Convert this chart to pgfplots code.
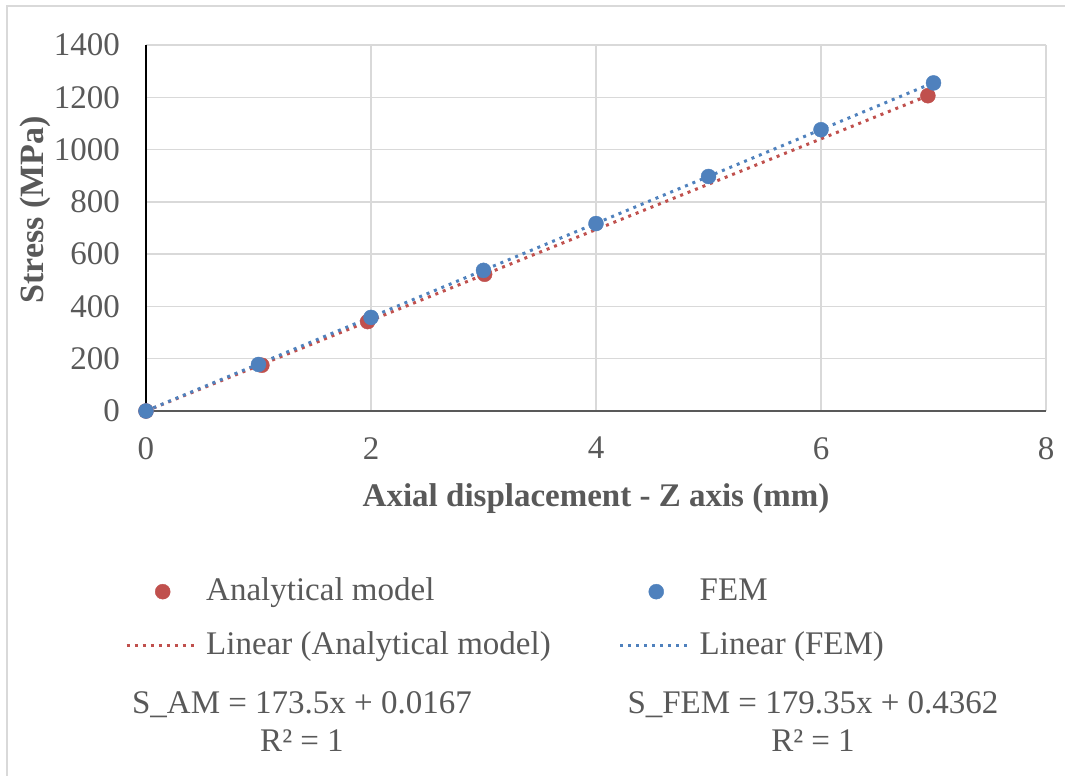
\documentclass[border=0pt]{standalone}
\usepackage{fontspec}
\setmainfont{Liberation Serif}
\usepackage{pgfplots}
\pgfplotsset{compat=1.18}
\definecolor{amred}{HTML}{C0504D}
\definecolor{femblue}{HTML}{4F81BD}
\definecolor{txtgray}{HTML}{595959}
\definecolor{gridgray}{HTML}{D9D9D9}
\definecolor{framegray}{HTML}{D9D9D9}

\begin{document}
\fontsize{33}{40}\selectfont
\begin{tikzpicture}[x=1pt,y=1pt]
\useasboundingbox (-146,-365) rectangle (919,411);
% chart area frame
\draw[framegray, line width=2pt] (-139,405) rectangle (940,-390);
\begin{axis}[
  at={(0,0)}, anchor=south west,
  scale only axis, width=900pt, height=366pt,
  xmin=0, xmax=8, ymin=0, ymax=1400,
  xtick={0,2,4,6,8}, ytick={0,200,...,1400},
  axis x line*=bottom, axis y line*=left,
  x axis line style={draw=txtgray, line width=2.5pt, -},
  y axis line style={draw=black, line width=1.5pt, -},
  major tick length=0pt,
  grid=major,
  major grid style={draw=gridgray, line width=1.5pt},
  /pgf/number format/assume math mode=true,
  /pgf/number format/set thousands separator={},
  tick label style={font=\fontsize{33}{40}\selectfont, text=txtgray, inner sep=0pt},
  yticklabel style={xshift=-26pt},
  xticklabel style={yshift=-26pt},
  xlabel={\bfseries Axial displacement - Z axis (mm)},
  xlabel style={at={(axis description cs:0.5,-0.262)}, anchor=base,
    font=\fontsize{33}{40}\selectfont, text=txtgray, inner sep=0pt},
  ylabel={\bfseries Stress (MPa)},
  ylabel style={at={(axis description cs:-0.1144,0.549)}, rotate=0, anchor=base,
    font=\fontsize{34}{40}\selectfont, text=txtgray, inner sep=0pt},
  legend columns=2,
  legend cell align=left,
  legend style={at={(axis description cs:-0.0233,-0.448)}, anchor=north west,
    draw=none, fill=none, inner sep=0pt,
    font=\fontsize{33}{40}\selectfont, text=txtgray,
    nodes={inner ysep=0pt, inner xsep=8pt, text height=25pt, text depth=8pt},
    row sep=21pt,
    /tikz/every even column/.append style={column sep=60pt}},
  legend image code/.code={\draw[mark repeat=2, mark phase=2, #1]
    plot coordinates {(0pt,0pt) (36pt,0pt) (70pt,0pt)};},
  clip=false,
]
% measured points
\addplot[only marks, mark=*, mark size=7.5pt, color=amred]
  coordinates {(0,0) (1.03,175) (1.97,342) (3.01,523) (6.95,1206)};
\addlegendentry{Analytical model}
\addplot[only marks, mark=*, mark size=7.5pt, color=femblue]
  coordinates {(0,0) (1,178) (2,358) (3,538) (4,717) (5,897) (6,1076) (7,1255)};
\addlegendentry{FEM}
% linear trendlines
\addplot[amred, line width=3pt, dash pattern=on 3pt off 5pt, no marks]
  coordinates {(0,0.0167) (6.95,1205.84)};
\addlegendentry{Linear (Analytical model)}
\addplot[femblue, line width=3pt, dash pattern=on 3pt off 5pt, no marks]
  coordinates {(0,0.4362) (7,1255.89)};
\addlegendentry{Linear (FEM)}
\end{axis}
% trendline equations
\node[anchor=base, text=txtgray, inner sep=0pt] at (156,-302) {S\_AM = 173.5x + 0.0167};
\node[anchor=base, text=txtgray, inner sep=0pt] at (156,-340) {R² = 1};
\node[anchor=base, text=txtgray, inner sep=0pt] at (667,-302) {S\_FEM = 179.35x + 0.4362};
\node[anchor=base, text=txtgray, inner sep=0pt] at (667,-340) {R² = 1};
\end{tikzpicture}
\end{document}
